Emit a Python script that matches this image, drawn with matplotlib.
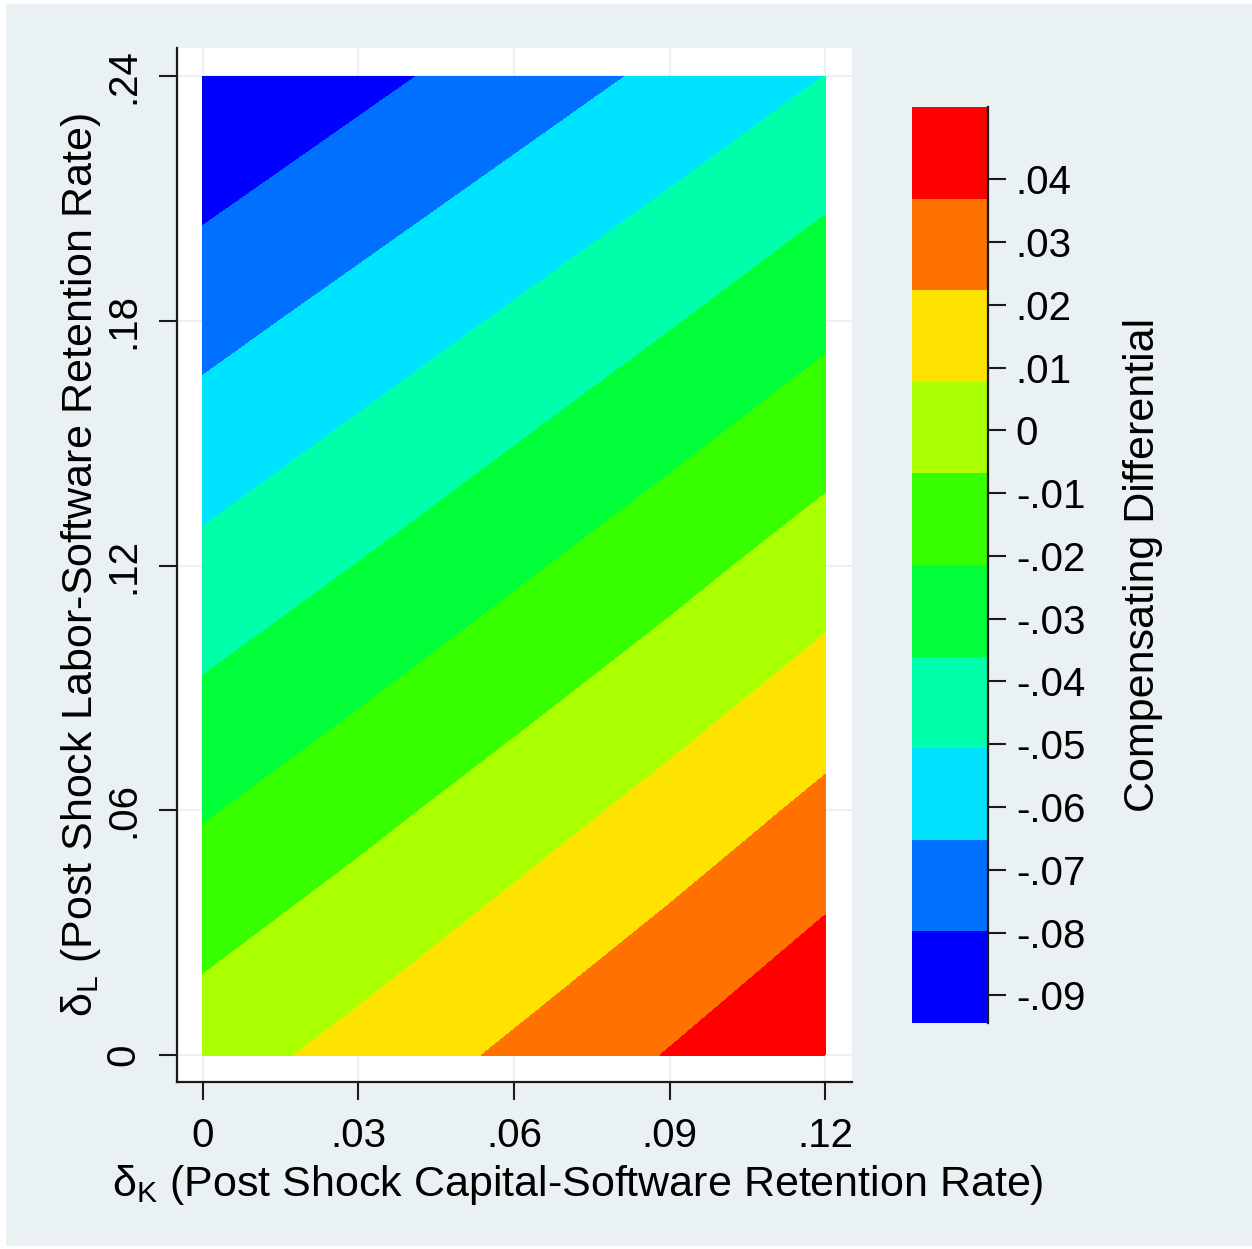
import numpy as np
import matplotlib.pyplot as plt
from matplotlib.patches import Rectangle

plt.rcParams['font.family'] = ['Liberation Sans', 'DejaVu Sans']
plt.rcParams['mathtext.fontset'] = 'custom'
plt.rcParams['mathtext.rm'] = 'Liberation Sans'

# grid the surface is given on
delta_k = [0, .03, .06, .09, .12]
delta_l = [0, .06, .12, .18, .24]
# compensating differential, one row per delta_l value
comp_diff = [
    [0.0010, 0.0125, 0.0249, 0.0377, 0.0515],
    [-0.0228, -0.0115, 0.0004, 0.0128, 0.0260],
    [-0.0468, -0.0357, -0.0241, -0.0121, 0.0007],
    [-0.0705, -0.0597, -0.0486, -0.0371, -0.0250],
    [-0.0944, -0.0838, -0.0731, -0.0621, -0.0505],
]

x_ticks = [0, .03, .06, .09, .12]
x_labels = ['0', '.03', '.06', '.09', '.12']
y_ticks = [0, .06, .12, .18, .24]
y_labels = ['0', '.06', '.12', '.18', '.24']
cbar_ticks = [-.09, -.08, -.07, -.06, -.05, -.04, -.03, -.02, -.01, 0, .01, .02, .03, .04]
cbar_labels = ['-.09', '-.08', '-.07', '-.06', '-.05', '-.04', '-.03', '-.02', '-.01',
               '0', '.01', '.02', '.03', '.04']

# stata hue rule, blue -> red
band_colors = ['#0000FF', '#0071FF', '#00E3FF', '#00FFAA', '#00FF38',
               '#38FF00', '#AAFF00', '#FFE300', '#FF7100', '#FF0000']
bg = '#EAF1F3'
ink = '#1a1a1a'
fs = 29      # tick labels
fs_t = 31    # axis titles

W, H = 1252, 1249


def px(l, t, r, b):
    return [l / W, 1 - b / H, (r - l) / W, (b - t) / H]


fig = plt.figure(figsize=(W / 100, H / 100), dpi=100, facecolor='white')
fig.patches.append(Rectangle((6 / W, 3 / H), 1, 1242 / H, transform=fig.transFigure,
                             facecolor=bg, edgecolor='none', zorder=-10))

ax = fig.add_axes(px(177, 48, 852, 1082))
ax.set_facecolor('white')
z = np.array(comp_diff)
levels = np.linspace(z.min(), z.max(), 11)
cs = ax.contourf(delta_k, delta_l, z, levels=levels, colors=band_colors, zorder=2)

ax.set_xlim(-0.0050, 0.1252)
ax.set_ylim(-0.0066, 0.2469)
ax.set_xticks(x_ticks, labels=x_labels)
ax.set_yticks(y_ticks, labels=y_labels)
for lab in ax.get_yticklabels():
    lab.set_rotation(90)
    lab.set_va('center')
ax.grid(True, color=bg, lw=1.5, zorder=0)
ax.set_axisbelow(True)
for s in ['top', 'right']:
    ax.spines[s].set_visible(False)
for s in ['left', 'bottom']:
    ax.spines[s].set_linewidth(1.6)
    ax.spines[s].set_color(ink)
ax.tick_params(length=13, width=1.5, color=ink, labelsize=fs, pad=12, labelcolor='black')
ax.set_xlabel(r'δ$_\mathregular{K}$ (Post Shock Capital-Software Retention Rate)', fontsize=fs_t, labelpad=6)
ax.xaxis.label.set_x((578 - 177) / 675)
ax.set_ylabel(r'δ$_\mathregular{L}$ (Post Shock Labor-Software Retention Rate)', fontsize=fs_t, labelpad=1)

cax = fig.add_axes(px(912, 107, 988, 1023))
cb = fig.colorbar(cs, cax=cax)
cb.outline.set_visible(False)
cb.set_ticks(cbar_ticks, labels=cbar_labels)
cax.plot([1, 1], [0, 1], transform=cax.transAxes, color=ink, lw=1.6, clip_on=False)
cax.tick_params(length=13, width=1.5, color=ink, labelsize=fs, pad=7)
cb.set_label('Compensating Differential', fontsize=fs_t, labelpad=27)

fig.savefig('out.png', dpi=100, facecolor=fig.get_facecolor())
